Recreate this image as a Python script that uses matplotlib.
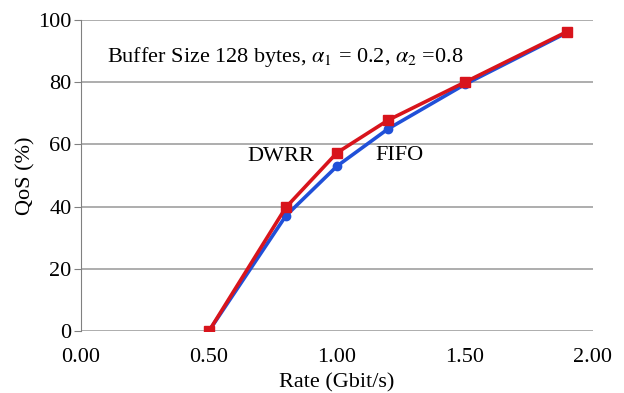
import numpy as np
import matplotlib.pyplot as plt

plt.rcParams['font.family'] = 'Liberation Serif'
plt.rcParams['mathtext.fontset'] = 'stix'

rate = [0.5, 0.8, 1.0, 1.2, 1.5, 1.9]
fifo = [0, 37, 53, 65, 79.3, 96]
dwrr = [0, 39.7, 57.3, 67.8, 80, 96.3]

fig = plt.figure(figsize=(6.24, 3.93), dpi=100)
ax = fig.add_axes([0.13, 0.158, 0.82, 0.791])

ax.plot(rate, fifo, '-o', color='#2050d8', lw=2.6, markersize=6, zorder=3)
ax.plot(rate, dwrr, '-s', color='#d8141c', lw=2.6, markersize=7, zorder=4)

ax.set_xlim(0, 2)
ax.set_ylim(0, 100)
ax.set_xticks(np.arange(0, 2.01, 0.5))
ax.set_xticklabels(['%.2f' % v for v in np.arange(0, 2.01, 0.5)])
ax.set_yticks(range(0, 101, 20))
ax.yaxis.grid(True, color='#a0a0a0', lw=1.2)
ax.set_axisbelow(True)

for s in ['top', 'right', 'bottom']:
    ax.spines[s].set_visible(False)
ax.spines['left'].set_color('#808080')
ax.tick_params(axis='x', length=0, labelsize=16, pad=12)
ax.tick_params(axis='y', length=5, color='#808080', labelsize=16, pad=2)

ax.set_xlabel('Rate (Gbit/s)', fontsize=16, labelpad=5)
ax.set_ylabel('QoS (%)', fontsize=16, labelpad=2)

ax.text(0.1, 88, r'Buffer Size 128 bytes, $\alpha_1$ = 0.2, $\alpha_2$ =0.8',
        fontsize=16, va='center')
ax.text(0.65, 56, 'DWRR', fontsize=16, va='center')
ax.text(1.15, 56.5, 'FIFO', fontsize=16, va='center')

fig.savefig('out.png', dpi=100)
